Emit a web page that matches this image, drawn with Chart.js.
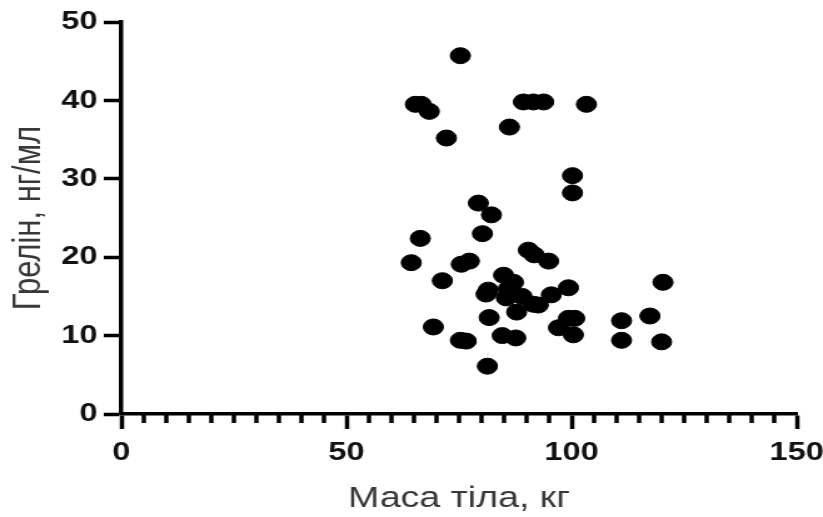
<!DOCTYPE html>
<html>
<head>
<meta charset="utf-8">
<script src="https://cdn.jsdelivr.net/npm/chart.js@4"></script>
<style>
  html, body { margin: 0; padding: 0; background: #fff; overflow: hidden; }
  /* the figure is laid out narrow and widened horizontally */
  #wrap { width: 658px; height: 517px; transform: scaleX(1.2507); transform-origin: 0 0; }
</style>
</head>
<body>
<div id="wrap"><canvas id="scatter"></canvas></div>
<script>
// body mass (kg) and ghrelin (ng/ml) per subject
var masa = [75.3, 65.3, 66.6, 68.4, 72.2, 86.2, 89.3, 91.5, 93.8, 103.3,
            100.2, 100.2, 79.3, 82.2, 80.2, 66.4, 64.4, 71.3, 75.5, 77.3,
            90.4, 91.7, 94.9, 69.3, 75.3, 76.6, 81.3, 81.7, 84.6, 87.6,
            111.1, 111.1, 117.4, 120.3, 120.0, 99.3, 95.5, 92.6, 99.3, 100.7,
            97.1, 100.4, 84.9, 81.5, 87.1, 85.5, 87.8, 91.5, 81.0, 86.0, 89.0];
var grelin = [45.7, 39.5, 39.5, 38.6, 35.2, 36.6, 39.8, 39.8, 39.8, 39.5,
              30.4, 28.2, 26.9, 25.4, 23.0, 22.4, 19.3, 17.0, 19.1, 19.5,
              20.9, 20.3, 19.5, 11.1, 9.4, 9.3, 6.1, 12.3, 10.0, 9.7,
              11.9, 9.4, 12.5, 16.8, 9.2, 16.1, 15.2, 13.9, 12.2, 12.2,
              11.0, 10.1, 17.7, 15.8, 16.8, 14.8, 13.0, 14.0, 15.3, 16.0, 15.0];
var xTicks = [0, 50, 100, 150];
var yTicks = [0, 10, 20, 30, 40, 50];

var points = masa.map(function(m, i) { return { x: m, y: grelin[i] }; });

// short ticks every 5 kg between the labelled ones
var minorTicks = {
    id: 'minorTicks',
    afterDraw: function(chart) {
        var xs = chart.scales.x, c = chart.ctx;
        c.save();
        c.strokeStyle = '#000';
        c.lineWidth = 3.5;
        for (var v = 5; v < 150; v += 5) {
            if (v % 50 === 0) continue;
            var px = xs.getPixelForValue(v);
            c.beginPath();
            c.moveTo(px, xs.top);
            c.lineTo(px, xs.top + 9);
            c.stroke();
        }
        c.restore();
    }
};

var ctx = document.getElementById('scatter').getContext('2d');
var myChart = new Chart(ctx, {
    type: 'scatter',
    data: {
        datasets: [{
            data: points,
            pointStyle: 'circle',
            pointRadius: 8,
            pointBorderWidth: 1,
            backgroundColor: '#000',
            borderColor: '#000'
        }]
    },
    options: {
        responsive: true,
        maintainAspectRatio: false,
        animation: false,
        layout: { padding: { top: 22, right: 21, left: 0, bottom: 0 } },
        plugins: { legend: { display: false }, tooltip: { enabled: false } },
        scales: {
            x: {
                type: 'linear',
                min: 0, max: 150,
                afterBuildTicks: function(s) { s.ticks = xTicks.map(function(v) { return { value: v }; }); },
                afterFit: function(s) { s.height = 103; s.paddingLeft = 0; s.paddingRight = 0; },
                border: { display: true, color: '#000', width: 3.5 },
                grid: { drawOnChartArea: false, drawTicks: true, tickLength: 15, tickWidth: 3.5, tickColor: '#000' },
                ticks: {
                    color: '#111',
                    padding: 8,
                    maxRotation: 0,
                    font: { family: 'Liberation Sans', size: 26, weight: 'bold' }
                },
                title: {
                    display: true,
                    text: 'Маса тіла, кг',
                    color: '#383838',
                    padding: { top: 0, bottom: 0 },
                    font: { family: 'Liberation Sans', size: 30 }
                }
            },
            y: {
                type: 'linear',
                min: 0, max: 50,
                afterBuildTicks: function(s) { s.ticks = yTicks.map(function(v) { return { value: v }; }); },
                afterFit: function(s) { s.width = 97; s.paddingTop = 0; s.paddingBottom = 0; },
                border: { display: true, color: '#000', width: 3.5 },
                grid: { drawOnChartArea: false, drawTicks: true, tickLength: 14, tickWidth: 3.5, tickColor: '#000' },
                ticks: {
                    color: '#111',
                    padding: 5,
                    font: { family: 'Liberation Sans', size: 26, weight: 'bold' }
                },
                title: {
                    display: true,
                    text: 'Грелін, нг/мл',
                    color: '#383838',
                    padding: { top: 5, bottom: 0 },
                    font: { family: 'Liberation Sans', size: 31 }
                }
            }
        }
    },
    plugins: [minorTicks]
});
</script>
</body>
</html>
